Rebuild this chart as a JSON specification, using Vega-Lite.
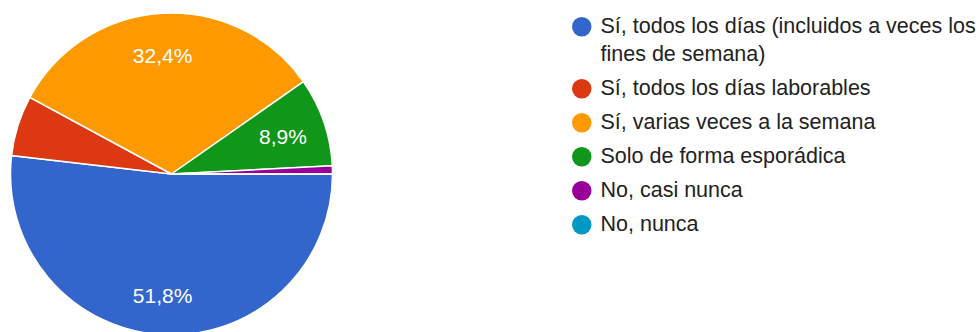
{
  "$schema": "https://vega.github.io/schema/vega-lite/v6.json",
  "width": 343,
  "height": 332,
  "autosize": {"type": "none"},
  "padding": {"left": 0, "top": 0, "right": 637, "bottom": 0},
  "background": "white",
  "config": {"view": {"stroke": null}, "font": "Liberation Sans", "style": {"guide-label": {"lineHeight": 28}}},
  "data": {
    "values": [
      {"idx": 1, "respuesta": "Sí, todos los días (incluidos a veces los fines de semana)", "n": 128, "etiqueta": "51,8%"},
      {"idx": 2, "respuesta": "Sí, todos los días laborables", "n": 15, "etiqueta": ""},
      {"idx": 3, "respuesta": "Sí, varias veces a la semana", "n": 80, "etiqueta": "32,4%"},
      {"idx": 4, "respuesta": "Solo de forma esporádica", "n": 22, "etiqueta": "8,9%"},
      {"idx": 5, "respuesta": "No, casi nunca", "n": 2, "etiqueta": ""},
      {"idx": 6, "respuesta": "No, nunca", "n": 0, "etiqueta": ""}
    ]
  },
  "encoding": {
    "theta": {"field": "n", "type": "quantitative", "stack": true, "scale": {"range": [1.5707963, 7.8539816]}},
    "order": {"field": "idx", "type": "quantitative"},
    "color": {
      "field": "respuesta",
      "type": "nominal",
      "sort": {"field": "idx"},
      "scale": {
        "domain": [
          "Sí, todos los días (incluidos a veces los fines de semana)",
          "Sí, todos los días laborables",
          "Sí, varias veces a la semana",
          "Solo de forma esporádica",
          "No, casi nunca",
          "No, nunca"
        ],
        "range": ["#3366cc", "#dc3912", "#ff9900", "#109618", "#990099", "#0099c6"]
      },
      "legend": {
        "title": null,
        "orient": "none",
        "legendX": 571,
        "legendY": 16,
        "padding": 0,
        "symbolType": "circle",
        "symbolSize": 380,
        "symbolStrokeWidth": 0,
        "labelFont": "Liberation Sans",
        "labelFontSize": 21.5,
        "labelColor": "#222222",
        "labelOffset": 8,
        "labelLimit": 500,
        "rowPadding": 11,
        "labelExpr": "datum.label == 'Sí, todos los días (incluidos a veces los fines de semana)' ? ['Sí, todos los días (incluidos a veces los', 'fines de semana)'] : datum.label"
      }
    }
  },
  "layer": [
    {
      "mark": {"type": "arc", "outerRadius": 161, "yOffset": 8, "stroke": "white", "strokeWidth": 1.5}
    },
    {
      "mark": {"type": "text", "radius": 120, "yOffset": 11, "xOffset": -2, "fontSize": 21, "font": "Liberation Sans", "fill": "white", "align": "center", "baseline": "middle"},
      "encoding": {
        "text": {"field": "etiqueta", "type": "nominal"},
        "color": {"value": "white"}
      }
    }
  ]
}
